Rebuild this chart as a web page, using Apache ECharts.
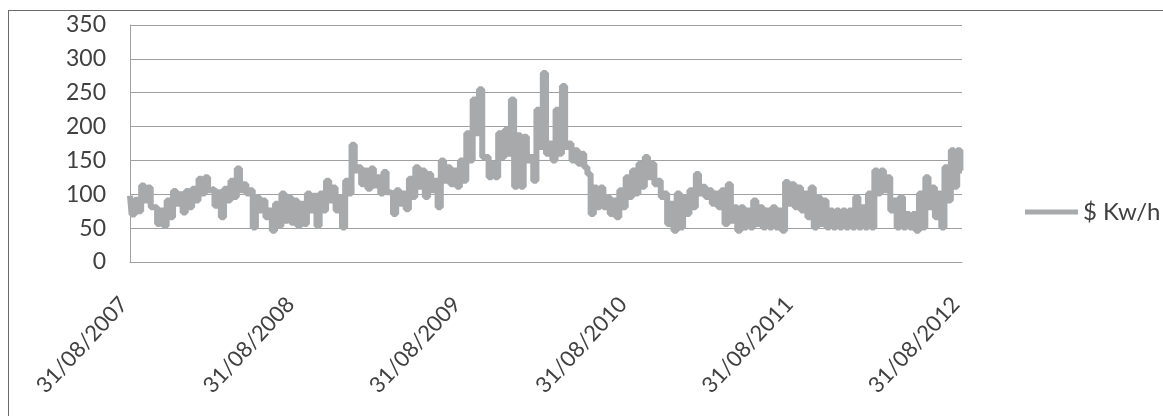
<!DOCTYPE html>
<html>
<head>
<meta charset="utf-8">
<script src="https://cdn.jsdelivr.net/npm/echarts@6/dist/echarts.min.js"></script>
<style>
  html, body { margin: 0; padding: 0; background: #fff; }
  #chart { width: 1163px; height: 416px; }
  #frame { position: absolute; left: 8px; top: 10px; width: 1200px; height: 500px; border: 1px solid #6a6a6a; pointer-events: none; }
</style>
</head>
<body>
<div id="chart"></div>
<div id="frame"></div>
<script>
// price, two-week periods from 31/08/2007 (upper and lower edge of the band)
const bandHigh = [98, 92, 113, 110, 81, 76, 91, 105, 100, 105, 108, 123, 125, 108, 103, 108, 120, 138, 115, 106,
  96, 91, 76, 86, 101, 96, 91, 86, 101, 98, 101, 120, 110, 96, 120, 173, 140, 135, 138, 125,
  133, 101, 106, 101, 123, 140, 135, 130, 120, 150, 140, 135, 150, 190, 240, 255, 155, 145, 190, 195,
  240, 187, 185, 155, 225, 279, 175, 225, 260, 175, 165, 160, 130, 110, 110, 96, 91, 106, 125, 135,
  145, 155, 145, 120, 101, 86, 101, 96, 106, 130, 111, 106, 101, 106, 115, 81, 81, 76, 91, 81,
  76, 81, 76, 118, 115, 110, 101, 110, 96, 91, 76, 76, 76, 76, 96, 81, 101, 135, 135, 125,
  91, 96, 71, 71, 101, 125, 110, 101, 140, 165, 165];
const bandLow = [70, 75, 91, 81, 56, 53, 66, 86, 73, 81, 91, 101, 106, 83, 66, 91, 96, 106, 101, 51,
  76, 66, 46, 53, 61, 58, 53, 56, 76, 53, 76, 91, 76, 51, 101, 135, 115, 108, 113, 101,
  103, 71, 86, 78, 96, 111, 96, 106, 81, 120, 115, 111, 120, 150, 190, 155, 125, 125, 155, 160,
  111, 111, 150, 120, 170, 160, 150, 160, 170, 150, 145, 140, 71, 81, 81, 71, 66, 81, 96, 101,
  111, 125, 115, 96, 56, 46, 51, 71, 81, 101, 96, 86, 81, 56, 61, 46, 51, 51, 56, 51,
  51, 51, 46, 86, 81, 76, 66, 51, 56, 51, 51, 51, 51, 51, 51, 51, 51, 101, 106, 76,
  51, 51, 51, 46, 51, 81, 66, 51, 91, 111, 135];
const tickDates = ['2007-08-31', '2008-08-31', '2009-08-31', '2010-08-31', '2011-08-31', '2012-08-31'];
const yTicks = [0, 50, 100, 150, 200, 250, 300, 350];
const seriesName = '$ Kw/h';

const DAY = 86400000;
const toUTC = s => { const p = s.split('-'); return Date.UTC(+p[0], +p[1] - 1, +p[2]); };
const start = toUTC(tickDates[0]);
const end = toUTC(tickDates[tickDates.length - 1]);

// weekly points: high edge then low edge of each two-week period
const points = [];
bandHigh.forEach((h, i) => {
  const t = start + i * 14 * DAY;
  points.push([t, h]);
  if (t + 7 * DAY <= end) points.push([t + 7 * DAY, bandLow[i]]);
});

const pad = n => (n < 10 ? '0' : '') + n;
const fmtDate = v => {
  const d = new Date(v);
  return pad(d.getUTCDate()) + '/' + pad(d.getUTCMonth() + 1) + '/' + d.getUTCFullYear();
};

const chart = echarts.init(document.getElementById('chart'));
chart.setOption({
  animation: false,
  textStyle: { fontFamily: 'Lato', color: '#404040' },
  grid: { left: 130, right: 201, top: 25, bottom: 154 },
  legend: {
    left: 1025, top: 200, padding: 0,
    icon: 'rect', itemWidth: 53, itemHeight: 5,
    textStyle: { fontSize: 24, color: '#404040', fontFamily: 'Lato' },
    data: [seriesName]
  },
  xAxis: {
    type: 'value',
    min: start, max: end,
    axisLine: { lineStyle: { color: '#a0a0a0', width: 1 } },
    axisTick: { show: false },
    splitLine: { show: false },
    axisLabel: {
      rotate: 47, margin: 32, fontSize: 22, color: '#404040',
      padding: [0, 9, 0, 0],
      customValues: tickDates.map(toUTC),
      formatter: v => fmtDate(v)
    }
  },
  yAxis: {
    type: 'value',
    min: yTicks[0], max: yTicks[yTicks.length - 1], interval: 50,
    axisLine: { show: true, lineStyle: { color: '#a0a0a0' } },
    axisTick: { show: false },
    splitLine: { lineStyle: { color: '#a0a0a0', width: 1 } },
    axisLabel: { fontSize: 23, margin: 24, color: '#404040' }
  },
  series: [{
    name: seriesName,
    type: 'line',
    step: 'middle',
    data: points,
    showSymbol: false,
    lineStyle: { color: '#a8a9ab', width: 6 },
    itemStyle: { color: '#a8a9ab' }
  }]
});
</script>
</body>
</html>
